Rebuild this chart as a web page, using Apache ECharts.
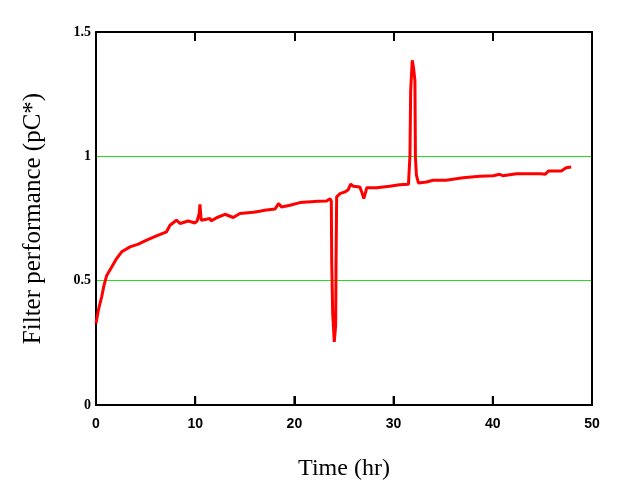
<!DOCTYPE html>
<html>
<head>
<meta charset="utf-8">
<script src="https://cdn.jsdelivr.net/npm/echarts@6/dist/echarts.min.js"></script>
<style>html,body{margin:0;padding:0;background:#fff}#c{width:624px;height:497px}</style>
</head>
<body>
<div id="c"></div>
<script>
// Time (hr)
var timeHr = [0, 0.23, 0.57, 0.8, 1.07, 1.58, 2.08, 2.59, 3.43, 4.27, 5.1, 6.1, 7.1, 7.46, 8.1, 8.47, 9.3, 9.98, 10.2, 10.4, 10.48, 10.6, 11.5, 11.6, 12.16, 13.0, 13.84, 14.5, 15.86, 16.5, 17.0, 18.05, 18.4, 18.7, 19.56, 20.56, 22.4, 23.25, 23.6, 23.72, 23.76, 23.86, 24.02, 24.16, 24.2, 24.26, 24.6, 25.1, 25.43, 25.67, 25.94, 26.6, 26.78, 27.0, 27.3, 28.3, 29.6, 30.6, 31.5, 31.65, 31.72, 31.88, 32.0, 32.15, 32.2, 32.3, 32.5, 33.3, 34.0, 35.3, 37.0, 38.7, 40.05, 40.7, 41.0, 42.4, 44.8, 45.3, 45.6, 46.9, 47.4, 47.9];
// Filter performance (pC*)
var perf = [0.328, 0.38, 0.435, 0.48, 0.52, 0.555, 0.589, 0.616, 0.636, 0.647, 0.663, 0.68, 0.696, 0.723, 0.743, 0.73, 0.74, 0.732, 0.74, 0.77, 0.807, 0.743, 0.75, 0.74, 0.753, 0.767, 0.754, 0.77, 0.775, 0.779, 0.783, 0.788, 0.81, 0.796, 0.803, 0.814, 0.819, 0.82, 0.83, 0.82, 0.58, 0.37, 0.254, 0.32, 0.58, 0.837, 0.85, 0.857, 0.866, 0.888, 0.88, 0.877, 0.857, 0.83, 0.874, 0.874, 0.88, 0.886, 0.888, 1.004, 1.265, 1.386, 1.359, 1.305, 0.997, 0.924, 0.893, 0.897, 0.904, 0.904, 0.914, 0.92, 0.922, 0.928, 0.922, 0.93, 0.93, 0.928, 0.941, 0.941, 0.954, 0.957];
var xTicks = [0, 10, 20, 30, 40, 50];
var yTickLabels = {"0": "0", "0.5": "0.5", "1": "1", "1.5": "1.5"};

var pts = timeHr.map(function (t, i) { return [t, perf[i]]; });
var chart = echarts.init(document.getElementById('c'), null, {renderer: 'canvas'});
var gridTop = 32, gridBottom = 92, tickLen = 9;
function axisLine() { return {show: true, onZero: false, lineStyle: {color: '#000', width: 2}}; }
function innerTick() { return {show: true, inside: true, length: tickLen, lineStyle: {color: '#000', width: 2}}; }
chart.setOption({
  backgroundColor: '#fff',
  animation: false,
  grid: {left: 96, right: 32, top: gridTop, bottom: gridBottom, containLabel: false},
  xAxis: [{
    type: 'value', position: 'bottom', min: 0, max: 50, interval: 10,
    name: 'Time (hr)', nameLocation: 'middle', nameGap: 52,
    nameTextStyle: {fontFamily: 'Liberation Serif', fontSize: 24, color: '#000'},
    axisLine: axisLine(),
    axisTick: innerTick(),
    axisLabel: {margin: 12, fontFamily: 'Liberation Sans', fontWeight: 'bold', fontSize: 14, color: '#000',
      formatter: function (v) { return xTicks.indexOf(v) >= 0 ? String(v) : ''; }},
    splitLine: {show: false}
  }, {
    type: 'value', position: 'top', min: 0, max: 50, interval: 10,
    axisLine: axisLine(),
    axisTick: innerTick(),
    axisLabel: {show: false}, splitLine: {show: false}
  }],
  yAxis: [{
    type: 'value', position: 'left', min: 0, max: 1.5, interval: 0.5,
    name: 'Filter performance (pC*)', nameLocation: 'middle', nameGap: 50,
    nameTextStyle: {fontFamily: 'Liberation Serif', fontSize: 25, color: '#000'},
    axisLine: axisLine(), axisTick: {show: false},
    axisLabel: {margin: 5, fontFamily: 'Liberation Serif', fontWeight: 'bold', fontSize: 14, color: '#000',
      formatter: function (v) { return yTickLabels[String(v)] !== undefined ? yTickLabels[String(v)] : String(v); }},
    splitLine: {show: true, lineStyle: {color: '#22dd22', width: 1}}
  }, {
    type: 'value', position: 'right', min: 0, max: 1.5, interval: 0.5,
    axisLine: axisLine(), axisTick: {show: false}, axisLabel: {show: false}, splitLine: {show: false}
  }],
  series: [{
    type: 'line', xAxisIndex: 0, yAxisIndex: 0, data: pts,
    showSymbol: false, symbol: 'none',
    lineStyle: {color: '#ff0000', width: 3}, z: 3
  }]
});
// upward tick marks on the bottom frame, placed through the chart's own x scale
var tickEls = xTicks.slice(1, -1).map(function (v) {
  var p = chart.convertToPixel({xAxisIndex: 0, yAxisIndex: 0}, [v, 0]);
  return {type: 'line', z: 100, silent: true,
    shape: {x1: p[0], y1: p[1], x2: p[0], y2: p[1] - tickLen},
    style: {stroke: '#000', lineWidth: 2}};
});
chart.setOption({graphic: {elements: tickEls}});
</script>
</body>
</html>
